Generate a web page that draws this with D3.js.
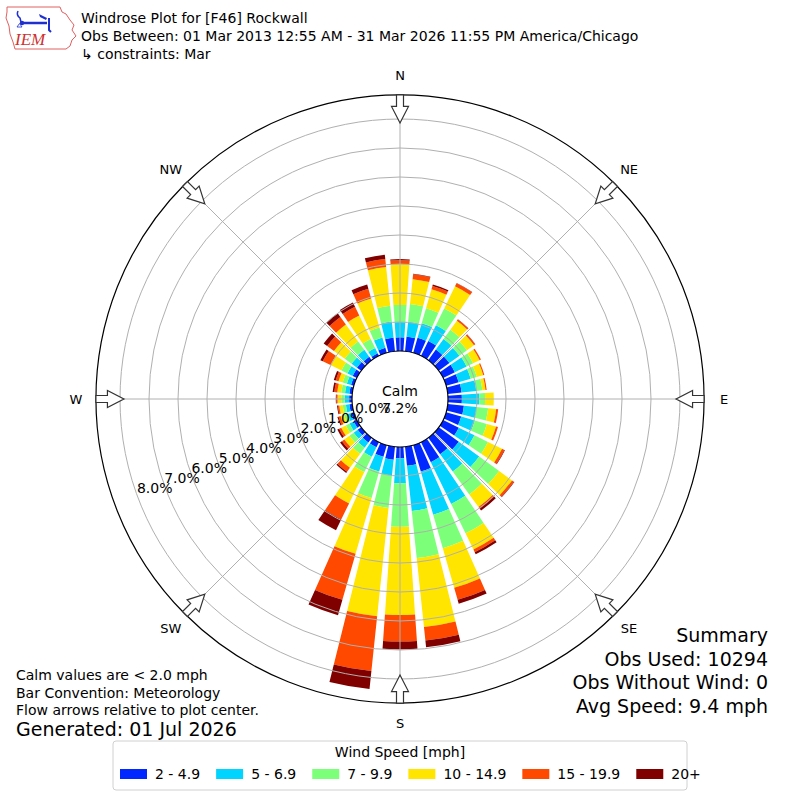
<!DOCTYPE html>
<html>
<head>
<meta charset="utf-8">
<script src="https://cdn.jsdelivr.net/npm/d3@7"></script>
<style>
  body { margin: 0; background: #fff; }
  svg { display: block; font-family: "DejaVu Sans", sans-serif; }
</style>
</head>
<body>
<svg id="chart" width="800" height="800"></svg>
<script>
// ---- data (percent of obs per 10 degree sector) ----
const directions = [0, 10, 20, 30, 40, 50, 60, 70, 80, 90, 100, 110, 120, 130, 140, 150, 160, 170,
  180, 190, 200, 210, 220, 230, 240, 250, 260, 270, 280, 290, 300, 310, 320, 330, 340, 350];
const speedBins = ['2 - 4.9', '5 - 6.9', '7 - 9.9', '10 - 14.9', '15 - 19.9', '20+'];
const binColors = ['#0028ff', '#00d4ff', '#7cff79', '#ffe500', '#ff4800', '#800000'];

const spd2to5 = [0.47, 0.50, 0.54, 0.57, 0.45, 0.45, 0.45, 0.45, 0.48, 0.48, 0.56, 0.54, 0.60, 0.85, 0.70, 0.77, 0.95, 0.66,
  0.39, 0.45, 0.42, 0.20, 0.20, 0.15, 0.12, 0.10, 0.10, 0.10, 0.10, 0.10, 0.16, 0.18, 0.15, 0.10, 0.18, 0.47];
const spd5to7 = [0.53, 0.52, 0.52, 0.60, 0.45, 0.43, 0.45, 0.43, 0.51, 0.60, 0.44, 0.49, 0.60, 0.87, 0.74, 1.60, 1.55, 1.57,
  0.86, 0.55, 0.53, 0.36, 0.22, 0.17, 0.16, 0.12, 0.12, 0.15, 0.15, 0.15, 0.20, 0.23, 0.29, 0.20, 0.37, 0.56];
const spd7to10 = [0.59, 0.62, 0.54, 0.65, 0.40, 0.32, 0.25, 0.22, 0.21, 0.20, 0.40, 0.43, 0.52, 0.85, 0.97, 1.13, 1.20, 1.63,
  1.50, 1.12, 0.95, 0.59, 0.26, 0.18, 0.14, 0.13, 0.11, 0.12, 0.13, 0.15, 0.23, 0.29, 0.36, 0.35, 0.36, 0.55];
const spd10to15 = [1.41, 0.86, 0.68, 0.85, 0.38, 0.30, 0.25, 0.23, 0.11, 0.30, 0.28, 0.33, 0.54, 0.55, 0.54, 0.62, 1.42, 2.39,
  3.04, 3.76, 2.00, 1.20, 0.60, 0.22, 0.18, 0.13, 0.12, 0.13, 0.14, 0.15, 0.42, 0.46, 0.72, 0.90, 1.04, 1.34];
const spd15to20 = [0.13, 0.17, 0.12, 0.12, 0.05, 0.05, 0.05, 0.04, 0.04, 0.00, 0.07, 0.07, 0.09, 0.08, 0.07, 0.10, 0.43, 0.47,
  0.92, 1.90, 1.65, 0.62, 0.17, 0.10, 0.08, 0.07, 0.05, 0.04, 0.10, 0.10, 0.30, 0.29, 0.32, 0.33, 0.35, 0.28];
const spd20up = [0.04, 0.02, 0.05, 0.01, 0.01, 0.01, 0.00, 0.00, 0.00, 0.00, 0.00, 0.00, 0.02, 0.02, 0.08, 0.08, 0.14, 0.23,
  0.27, 0.62, 0.55, 0.41, 0.05, 0.08, 0.07, 0.04, 0.03, 0.02, 0.06, 0.07, 0.09, 0.15, 0.16, 0.17, 0.15, 0.15];

const ringTicks = [0, 1, 2, 3, 4, 5, 6, 7, 8];
const compassLabels = ['N', 'NE', 'E', 'SE', 'S', 'SW', 'W', 'NW'];
const compassAngles = [0, 45, 90, 135, 180, 225, 270, 315];
const calmPct = 7.2;
const summaryLines = ['Summary', 'Obs Used: 10294', 'Obs Without Wind: 0', 'Avg Speed: 9.4 mph'];
const noteLines = ['Calm values are < 2.0 mph', 'Bar Convention: Meteorology', 'Flow arrows relative to plot center.'];
const titleLines = ['Windrose Plot for [F46] Rockwall',
  'Obs Between: 01 Mar 2013 12:55 AM - 31 Mar 2026 11:55 PM America/Chicago',
  '\u21B3 constraints: Mar'];

// ---- setup ----
const svg = d3.select('#chart');
const cx = 400, cy = 399;
const rMaxPct = 8.83;

const r = d3.scaleLinear().domain([0, 8]).range([48, 280]);
const ang = d3.scaleLinear().domain([0, 360]).range([0, 2 * Math.PI]);
const color = d3.scaleOrdinal().domain(speedBins).range(binColors);

const series = [spd2to5, spd5to7, spd7to10, spd10to15, spd15to20, spd20up];
const table = directions.map((dir, i) => {
  const row = { dir };
  speedBins.forEach((b, j) => { row[b] = series[j][i]; });
  return row;
});
const stacked = d3.stack().keys(speedBins)(table);

const plot = svg.append('g').attr('transform', `translate(${cx},${cy})`);

// bars
const arc = d3.arc()
  .innerRadius(d => r(d[0]))
  .outerRadius(d => r(d[1]))
  .startAngle(d => ang(d.data.dir - 4))
  .endAngle(d => ang(d.data.dir + 4));

plot.selectAll('g.layer')
  .data(stacked)
  .enter().append('g').attr('class', 'layer')
  .attr('fill', d => color(d.key))
  .selectAll('path')
  .data(d => d)
  .enter().append('path')
  .attr('d', arc);

// grid rings and spokes, over the bars
plot.selectAll('circle.ring')
  .data(ringTicks.slice(1))
  .enter().append('circle')
  .attr('class', 'ring')
  .attr('r', d => r(d))
  .attr('fill', 'none')
  .attr('stroke', '#b0b0b0')
  .attr('stroke-width', 1);

plot.selectAll('line.spoke')
  .data(compassAngles)
  .enter().append('line')
  .attr('x1', d => r(0) * Math.sin(ang(d)))
  .attr('y1', d => -r(0) * Math.cos(ang(d)))
  .attr('x2', d => r(rMaxPct) * Math.sin(ang(d)))
  .attr('y2', d => -r(rMaxPct) * Math.cos(ang(d)))
  .attr('stroke', '#b0b0b0')
  .attr('stroke-width', 1);

// calm circle + outer frame
plot.append('circle').attr('r', r(0)).attr('fill', '#fff').attr('stroke', '#000').attr('stroke-width', 1.2);
plot.append('circle').attr('r', r(rMaxPct)).attr('fill', 'none').attr('stroke', '#000').attr('stroke-width', 1.2);

// flow arrows
const ro = r(rMaxPct);
plot.selectAll('path.arrow')
  .data(compassAngles)
  .enter().append('path')
  .attr('class', 'arrow')
  .attr('transform', d => `rotate(${d})`)
  .attr('d', `M-3.5,${-ro} L3.5,${-ro} L3.5,${-ro + 11.5} L8.5,${-ro + 11.5} L0,${-ro + 28} L-8.5,${-ro + 11.5} L-3.5,${-ro + 11.5} Z`)
  .attr('fill', '#fff')
  .attr('stroke', '#333')
  .attr('stroke-width', 1.2);

// compass labels
plot.selectAll('text.compass')
  .data(compassLabels)
  .enter().append('text')
  .attr('x', (d, i) => 324 * Math.sin(ang(compassAngles[i])))
  .attr('y', (d, i) => -324 * Math.cos(ang(compassAngles[i])))
  .attr('text-anchor', 'middle')
  .attr('dominant-baseline', 'central')
  .attr('font-size', 13)
  .text(d => d);

// percentage labels along 250 deg
const labAng = ang(250);
plot.selectAll('text.pct')
  .data(ringTicks)
  .enter().append('text')
  .attr('x', d => r(d) * Math.sin(labAng))
  .attr('y', d => -r(d) * Math.cos(labAng) - 2)
  .attr('font-size', 14)
  .text(d => d.toFixed(1) + '%');

// calm text
plot.append('text').attr('y', -3).attr('text-anchor', 'middle').attr('font-size', 14).text('Calm');
plot.append('text').attr('y', 14).attr('text-anchor', 'middle').attr('font-size', 14).text(calmPct.toFixed(1) + '%');

// ---- header ----
const logo = svg.append('g');
const iemBlue = '#2030d0';
logo.append('path')
  .attr('d', 'M7,7 L60,7 L62,12 L66,14 L70,20 L74,25 L72,30 L76,36 L72,40 L70,46 L66,49 L15,49 L13,42 L10,34 L9,26 L6,18 L7,12 Z')
  .attr('fill', '#fff').attr('stroke', '#e06060').attr('stroke-width', 1);
logo.append('line').attr('x1', 21).attr('y1', 23).attr('x2', 47).attr('y2', 23).attr('stroke', iemBlue).attr('stroke-width', 2.5);
logo.append('circle').attr('cx', 22).attr('cy', 23).attr('r', 2.2).attr('fill', iemBlue);
logo.append('path').attr('d', 'M18,11 Q16,15 20,18 L21,22').attr('stroke', iemBlue).attr('stroke-width', 1.5).attr('fill', 'none');
logo.append('path').attr('d', 'M17,27 L19.5,23.5 L22,27 Z').attr('stroke', iemBlue).attr('stroke-width', 0.8).attr('fill', 'none');
logo.append('path').attr('d', 'M39,14 L47,18 L46,20 L40,17 Z').attr('fill', iemBlue);
logo.append('path').attr('d', 'M49,18 L49,30 L51,32').attr('stroke', iemBlue).attr('stroke-width', 2).attr('fill', 'none');
logo.append('text').attr('x', 15).attr('y', 45).attr('font-family', '"Liberation Serif", serif')
  .attr('font-style', 'italic').attr('font-size', 17).attr('fill', '#d03030').text('IEM');

svg.selectAll('text.title')
  .data(titleLines)
  .enter().append('text')
  .attr('x', 81)
  .attr('y', (d, i) => 23 + i * 18)
  .attr('font-size', 14)
  .text(d => d);

// ---- footer ----
svg.selectAll('text.summary')
  .data(summaryLines)
  .enter().append('text')
  .attr('x', 768)
  .attr('y', (d, i) => 642 + i * 23.5)
  .attr('text-anchor', 'end')
  .attr('font-size', 19)
  .text(d => d);

svg.selectAll('text.note')
  .data(noteLines)
  .enter().append('text')
  .attr('x', 16)
  .attr('y', (d, i) => 680 + i * 17.5)
  .attr('font-size', 14)
  .text(d => d);
svg.append('text').attr('x', 16).attr('y', 736).attr('font-size', 19).text('Generated: 01 Jul 2026');

// ---- legend ----
const legend = svg.append('g');
legend.append('rect').attr('x', 113).attr('y', 741).attr('width', 574).attr('height', 49).attr('rx', 3)
  .attr('fill', '#fff').attr('stroke', '#d0d0d0');
legend.append('text').attr('x', 400).attr('y', 757).attr('text-anchor', 'middle').attr('font-size', 14).text('Wind Speed [mph]');

let lx = 120;
speedBins.forEach(b => {
  legend.append('rect').attr('x', lx).attr('y', 769).attr('width', 27).attr('height', 10).attr('fill', color(b));
  const t = legend.append('text').attr('x', lx + 35).attr('y', 779).attr('font-size', 14).text(b);
  lx += 35 + t.node().getComputedTextLength() + 16;
});
</script>
</body>
</html>
